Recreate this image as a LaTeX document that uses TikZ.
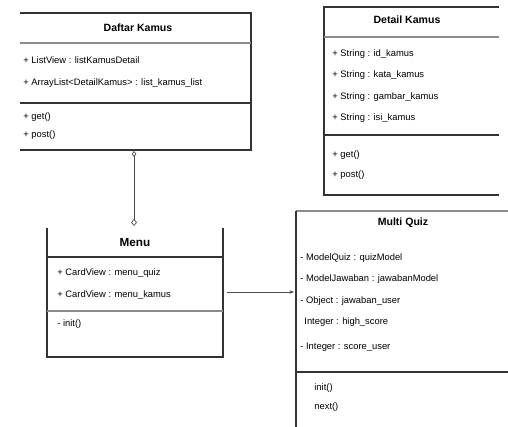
\documentclass[tikz,border=0pt]{standalone}
\usepackage{fontspec}
\setmainfont{Liberation Sans}
\usetikzlibrary{arrows.meta}

\tikzset{
  box/.style={draw=black!80, line width=0.9pt},
  sep/.style={draw=black!45, line width=0.9pt},
  title/.style={font=\bfseries\fontsize{9}{10}\selectfont, inner sep=1pt},
  attr/.style={anchor=west, font=\fontsize{8}{9}\selectfont, inner sep=1pt},
  link/.style={draw=black!70, line width=0.6pt}
}

\begin{document}
\begin{tikzpicture}[x=0.03cm, y=-0.03cm]
    \useasboundingbox (0,0) rectangle (508,427);

    % Daftar Kamus
    \draw[box] (20,13) -- (251,13) -- (251,150) -- (20,150);
    \draw[sep] (20,43) -- (251,43);
    \draw[box] (20,103) -- (251,103);
    \node[title] (dkTitle) at (138,28) {Daftar Kamus};
    \node[attr] (dkA1) at (22,60) {+ ListView : listKamusDetail};
    \node[attr] (dkA2) at (22,83) {+ ArrayList<DetailKamus> : list\_kamus\_list};
    \node[attr] (dkM1) at (22,117) {+ get()};
    \node[attr] (dkM2) at (22,135) {+ post()};

    % Detail Kamus
    \draw[box] (499,7) -- (324,7) -- (324,195) -- (499,195);
    \draw[sep] (324,37) -- (499,37);
    \draw[box] (324,135) -- (499,135);
    \node[title] (deTitle) at (407,20) {Detail Kamus};
    \node[attr] (deA1) at (331,54) {+ String : id\_kamus};
    \node[attr] (deA2) at (331,75) {+ String : kata\_kamus};
    \node[attr] (deA3) at (331,97) {+ String : gambar\_kamus};
    \node[attr] (deA4) at (331,118) {+ String : isi\_kamus};
    \node[attr] (deM1) at (331,155) {+ get()};
    \node[attr] (deM2) at (331,175) {+ post()};

    % Menu
    \draw[box] (47,228) -- (47,357) -- (223,357) -- (223,228);
    \draw[box] (47,257) -- (223,257);
    \draw[sep] (47,311) -- (223,311);
    \node[title, font=\bfseries\fontsize{10}{12}\selectfont] (mnTitle) at (135,243) {Menu};
    \node[attr] (mnA1) at (56,273) {+ CardView : menu\_quiz};
    \node[attr] (mnA2) at (56,295) {+ CardView : menu\_kamus};
    \node[attr] (mnM1) at (56,324) {- init()};

    % Multi Quiz
    \draw[sep] (296,211) -- (508,211);
    \draw[box] (296,211) -- (296,427);
    \draw[box] (296,372) -- (508,372);
    \node[title] (mqTitle) at (403,223) {Multi Quiz};
    \node[attr] (mqA1) at (299,258) {- ModelQuiz : quizModel};
    \node[attr] (mqA2) at (299,279) {- ModelJawaban : jawabanModel};
    \node[attr] (mqA3) at (299,301) {- Object : jawaban\_user};
    \node[attr] (mqA4) at (303,322) {Integer : high\_score};
    \node[attr] (mqA5) at (299,347) {- Integer : score\_user};
    \node[attr] (mqM1) at (313,388) {init()};
    \node[attr] (mqM2) at (313,407) {next()};

    % relations
    \coordinate (dkBottom) at (134,151);
    \coordinate (mnTop) at (134,226);
    \coordinate (mnRight) at (227,292);
    \coordinate (mqLeft) at (294,292);
    \draw[link, {Diamond[open,length=5pt,width=4pt]}-{Diamond[open,length=6pt,width=5pt]}] (dkBottom) -- (mnTop);
    \draw[link, -{Stealth[length=4pt,width=3pt]}] (mnRight) -- (mqLeft);
\end{tikzpicture}
\end{document}
